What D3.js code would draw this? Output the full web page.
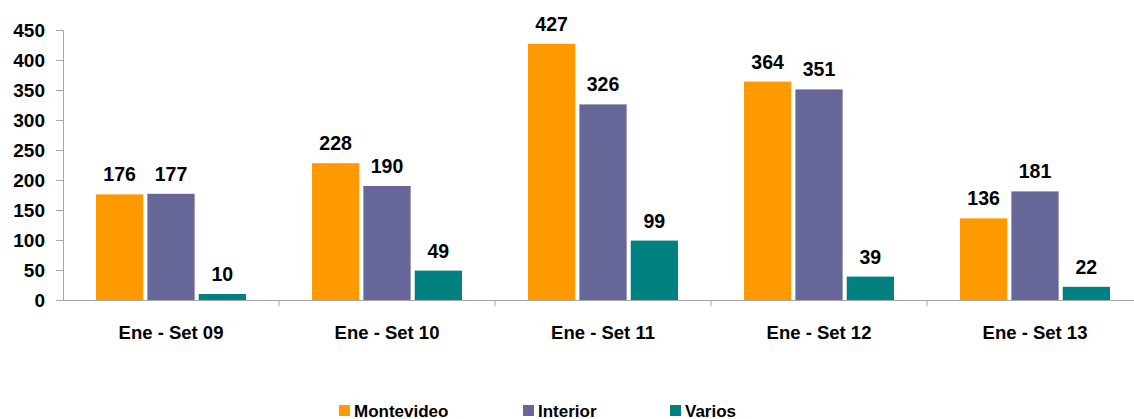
<!DOCTYPE html>
<html>
<head>
<meta charset="utf-8">
<script src="https://cdn.jsdelivr.net/npm/d3@7"></script>
<style>
  body { margin: 0; background: #fff; }
  text { font-family: "Liberation Sans", Arial, sans-serif; font-weight: bold; fill: #000; }
</style>
</head>
<body>
<div id="chart"></div>
<script>
const categories = ["Ene - Set 09", "Ene - Set 10", "Ene - Set 11", "Ene - Set 12", "Ene - Set 13"];
const seriesNames = ["Montevideo", "Interior", "Varios"];
const montevideo = [176, 228, 427, 364, 136];
const interior = [177, 190, 326, 351, 181];
const varios = [10, 49, 99, 39, 22];
const yTicks = [0, 50, 100, 150, 200, 250, 300, 350, 400, 450];

const values = [montevideo, interior, varios];
const data = categories.map((c, i) => ({
    cat: c,
    bars: seriesNames.map((s, j) => ({ key: s, value: values[j][i] }))
}));

const W = 1134, H = 419;
const svg = d3.select("#chart").append("svg")
    .attr("width", W)
    .attr("height", H);

// Scales (last group runs past the right edge, as in the original)
const x0 = d3.scaleBand()
    .domain(categories)
    .range([63, 1143])
    .paddingInner(0)
    .paddingOuter(0);

const x1 = d3.scaleBand()
    .domain(seriesNames)
    .range([33, 216 - 33])
    .paddingInner(0.08)
    .paddingOuter(0);

const y = d3.scaleLinear()
    .domain([0, 450])
    .range([300, 30]);

const color = d3.scaleOrdinal()
    .domain(seriesNames)
    .range(["#ff9900", "#666699", "#008080"]);

// Bars
const groups = svg.selectAll(".grp")
    .data(data)
    .enter()
    .append("g")
    .attr("class", "grp")
    .attr("transform", d => `translate(${x0(d.cat)},0)`);

groups.selectAll("rect")
    .data(d => d.bars)
    .enter()
    .append("rect")
    .attr("x", d => x1(d.key))
    .attr("y", d => y(d.value))
    .attr("width", x1.bandwidth())
    .attr("height", d => y(0) - y(d.value))
    .attr("fill", d => color(d.key));

groups.selectAll(".val")
    .data(d => d.bars)
    .enter()
    .append("text")
    .attr("class", "val")
    .attr("x", d => x1(d.key) + x1.bandwidth() / 2)
    .attr("y", d => y(d.value) - 13)
    .attr("text-anchor", "middle")
    .style("font-size", "19.5px")
    .text(d => d.value);

// Y axis
const yAxis = svg.append("g")
    .attr("transform", "translate(63,0)")
    .call(d3.axisLeft(y).tickValues(yTicks).tickSize(7).tickPadding(11));
yAxis.selectAll("text").style("font-size", "19px").attr("dy", "0.36em");
yAxis.selectAll("line, path").attr("stroke", "#a6a6a6");

// X axis
const xAxis = svg.append("g")
    .attr("transform", "translate(0,300)")
    .call(d3.axisBottom(x0).tickSize(0).tickPadding(0));
xAxis.select("path").attr("stroke", "#a6a6a6");
xAxis.selectAll(".tick text")
    .attr("y", 39)
    .attr("dy", 0)
    .style("font-size", "18.5px");

// separators between groups
svg.append("g")
    .selectAll("line")
    .data(categories)
    .enter()
    .append("line")
    .attr("x1", d => x0(d) + x0.bandwidth())
    .attr("x2", d => x0(d) + x0.bandwidth())
    .attr("y1", 300)
    .attr("y2", 306)
    .attr("stroke", "#a6a6a6");

// Legend
const legendX = [339, 523, 670];
const legend = svg.append("g");
seriesNames.forEach((key, i) => {
    legend.append("rect")
        .attr("x", legendX[i])
        .attr("y", 405)
        .attr("width", 11)
        .attr("height", 11)
        .attr("fill", color(key));
    legend.append("text")
        .attr("x", legendX[i] + 15)
        .attr("y", 416.5)
        .style("font-size", "17px")
        .text(key);
});
</script>
</body>
</html>
